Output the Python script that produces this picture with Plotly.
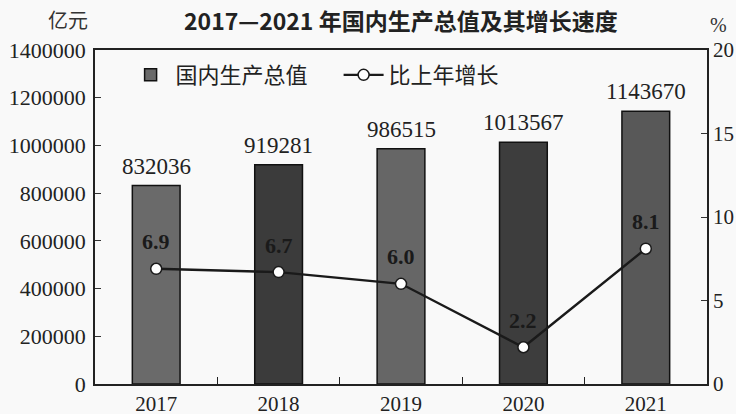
import plotly.graph_objects as go

years = ["2017", "2018", "2019", "2020", "2021"]
gdp = [832036, 919281, 986515, 1013567, 1143670]
growth = [6.9, 6.7, 6.0, 2.2, 8.1]
gdp_labels = ["832036", "919281", "986515", "1013567", "1143670"]
growth_labels = ["6.9", "6.7", "6.0", "2.2", "8.1"]
bar_colors = ["#6a6a6a", "#3b3b3b", "#666666", "#3d3d3d", "#585858"]

serif = "Liberation Serif, Times New Roman, serif"
cjk = "Noto Sans CJK SC, sans-serif"

fig = go.Figure()
fig.add_trace(go.Bar(
    x=years, y=gdp, name="国内生产总值",
    marker=dict(color=bar_colors, line=dict(color="#111111", width=1.5)),
    width=0.39,
))
fig.add_trace(go.Scatter(
    x=years, y=growth, name="比上年增长", yaxis="y2",
    mode="lines+markers",
    line=dict(color="#1a1a1a", width=2.4),
    marker=dict(symbol="circle", size=11, color="white",
                line=dict(color="#1a1a1a", width=1.5)),
))

annotations = []
for i, (v, lab) in enumerate(zip(gdp, gdp_labels)):
    annotations.append(dict(
        x=i, y=v, xref="x", yref="y", text=lab, showarrow=False,
        yanchor="bottom", yshift=5, font=dict(family=serif, size=23, color="#222222"),
    ))
for i, (g, lab) in enumerate(zip(growth, growth_labels)):
    annotations.append(dict(
        x=i, y=g, xref="x", yref="y2", text="<b>" + lab + "</b>", showarrow=False,
        yshift=27, font=dict(family=serif, size=22, color="#1a1a1a"),
    ))
annotations += [
    dict(text="<b>2017—2021 年国内生产总值及其增长速度</b>", x=0.5, y=1.0,
         xref="paper", yref="paper", xanchor="center", yanchor="middle",
         yshift=30, showarrow=False,
         font=dict(family=cjk, size=23, color="#222222")),
    dict(text="亿元", x=0, y=1.0, xref="paper", yref="paper",
         xanchor="center", yanchor="middle", xshift=-27, yshift=31, showarrow=False,
         font=dict(family=cjk, size=20, color="#333333")),
    dict(text="%", x=1, y=1.0, xref="paper", yref="paper",
         xanchor="center", yanchor="middle", xshift=11, yshift=25, showarrow=False,
         font=dict(family=serif, size=20, color="#333333")),
]

fig.update_layout(
    width=736, height=414,
    margin=dict(l=95, r=29, t=50, b=30),
    paper_bgcolor="#f9f9f9", plot_bgcolor="#f9f9f9",
    showlegend=True,
    legend=dict(orientation="h", x=0.05, y=0.925, xanchor="left", yanchor="middle",
                bgcolor="rgba(0,0,0,0)", font=dict(family=cjk, size=22, color="#222222"),
                itemwidth=40, tracegroupgap=0, entrywidth=158, entrywidthmode="pixels"),
    bargap=0.6,
    xaxis=dict(type="category", range=[-0.5, 4.5], showline=True, linecolor="#222222",
               linewidth=1.5, mirror=True, ticks="inside", tickson="boundaries", ticklen=7,
               tickcolor="#222222", tickfont=dict(family=serif, size=21, color="#222222"),
               showgrid=False, tickangle=0, automargin=False),
    yaxis=dict(range=[0, 1400000], dtick=200000, showline=True, linecolor="#222222",
               linewidth=1.5, ticks="inside", ticklen=6, tickcolor="#333333",
               tickfont=dict(family=serif, size=22, color="#222222"), ticklabelstandoff=3,
               showgrid=False, zeroline=False, tickformat="d", automargin=False),
    yaxis2=dict(range=[0, 20], dtick=5, overlaying="y", side="right", showline=True,
                linecolor="#222222", linewidth=1.5, ticks="inside", ticklen=6,
                tickcolor="#333333", tickfont=dict(family=serif, size=21, color="#222222"),
                showgrid=False, zeroline=False, automargin=False),
    annotations=annotations,
)

fig.write_html("out.html", config={"displayModeBar": False},
               post_script="document.body.style.margin='0';document.body.style.overflow='hidden';")
